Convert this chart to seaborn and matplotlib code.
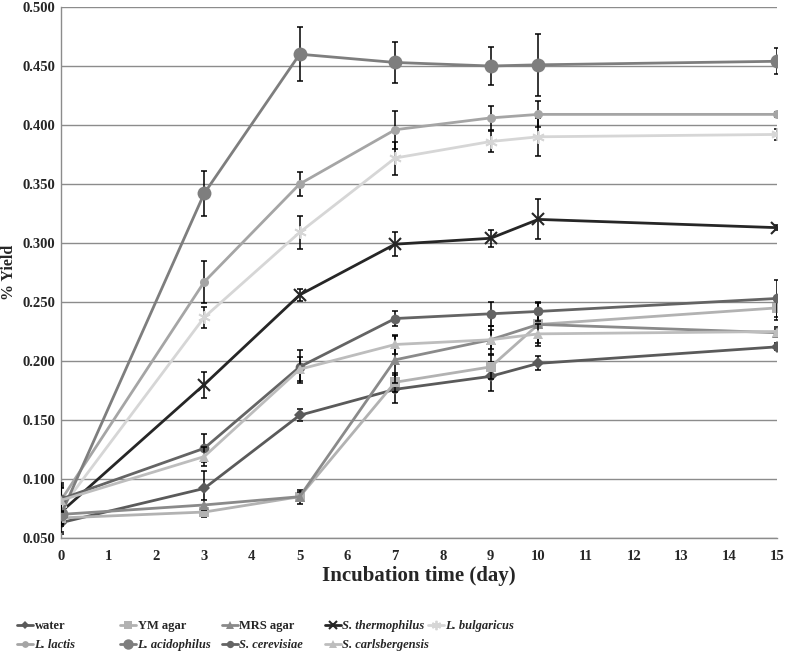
import numpy as np
import pandas as pd
import matplotlib
matplotlib.use('Agg')
import matplotlib.pyplot as plt
import seaborn as sns

# days sampled
days = [0, 3, 5, 7, 9, 10, 15]

# mean % yield per treatment
water = [0.063, 0.092, 0.154, 0.176, 0.187, 0.198, 0.212]
ym_agar = [0.067, 0.072, 0.085, 0.182, 0.195, 0.231, 0.245]
mrs_agar = [0.070, 0.078, 0.085, 0.201, 0.218, 0.231, 0.224]
s_thermophilus = [0.072, 0.180, 0.256, 0.299, 0.304, 0.320, 0.313]
l_bulgaricus = [0.075, 0.237, 0.309, 0.372, 0.386, 0.390, 0.392]
l_lactis = [0.082, 0.267, 0.350, 0.396, 0.406, 0.409, 0.409]
l_acidophilus = [0.070, 0.342, 0.460, 0.453, 0.450, 0.451, 0.454]
s_cerevisiae = [0.083, 0.126, 0.195, 0.236, 0.240, 0.242, 0.253]
s_carlsbergensis = [0.082, 0.119, 0.193, 0.214, 0.218, 0.223, 0.225]

# error bars (+/-)
water_err = [0.010, 0.015, 0.005, 0.012, 0.012, 0.006, 0.003]
ym_agar_err = [0.005, 0.004, 0.006, 0.008, 0.010, 0.010, 0.010]
mrs_agar_err = [0.005, 0.004, 0.004, 0.020, 0.012, 0.018, 0.003]
s_thermophilus_err = [0.010, 0.011, 0.005, 0.010, 0.007, 0.017, 0.002]
l_bulgaricus_err = [0.020, 0.009, 0.014, 0.014, 0.009, 0.016, 0.005]
l_lactis_err = [0.015, 0.018, 0.010, 0.016, 0.010, 0.011, 0.002]
l_acidophilus_err = [0.010, 0.019, 0.023, 0.017, 0.016, 0.026, 0.011]
s_cerevisiae_err = [0.010, 0.012, 0.014, 0.006, 0.010, 0.008, 0.016]
s_carlsbergensis_err = [0.010, 0.008, 0.010, 0.008, 0.008, 0.008, 0.004]

names = ['water', 'YM agar', 'MRS agar', 'S. thermophilus', 'L. bulgaricus',
         'L. lactis', 'L. acidophilus', 'S. cerevisiae', 'S. carlsbergensis']
means = [water, ym_agar, mrs_agar, s_thermophilus, l_bulgaricus,
         l_lactis, l_acidophilus, s_cerevisiae, s_carlsbergensis]
errs = [water_err, ym_agar_err, mrs_agar_err, s_thermophilus_err, l_bulgaricus_err,
        l_lactis_err, l_acidophilus_err, s_cerevisiae_err, s_carlsbergensis_err]

# style per series: colour, marker, marker size
styles = {
    'water': ('#5a5a5a', 'D', 6),
    'YM agar': ('#b2b2b2', 's', 7),
    'MRS agar': ('#8a8a8a', '^', 7.5),
    'S. thermophilus': ('#262626', 'x', 8),
    'L. bulgaricus': ('#d6d6d6', (6, 2, 0), 9),
    'L. lactis': ('#a5a5a5', 'o', 6.5),
    'L. acidophilus': ('#7e7e7e', 'o', 10),
    'S. cerevisiae': ('#646464', 'o', 7),
    'S. carlsbergensis': ('#bdbdbd', '^', 7.5),
}

rows = []
for n, m, e in zip(names, means, errs):
    for d, v, s in zip(days, m, e):
        rows.append({'day': d, 'yield': v, 'err': s, 'series': n})
df = pd.DataFrame(rows)

sns.set_style('white')
plt.rcParams['font.family'] = ['Liberation Serif', 'DejaVu Serif']
plt.rcParams['font.weight'] = 'bold'

fig = plt.figure(figsize=(7.87, 6.56), dpi=100)
ax = fig.add_axes([61 / 787, 1 - 538 / 656, (777 - 61) / 787, (538 - 7) / 656])

for i, n in enumerate(names):
    sub = df[df['series'] == n]
    col, mk, ms = styles[n]
    ax.errorbar(sub['day'], sub['yield'], yerr=sub['err'], fmt='none',
                ecolor='black', elinewidth=1.1, capsize=2.5, capthick=1.1,
                zorder=2 + i * 2)
    mew = 1.5 if mk == 'x' else (1.3 if isinstance(mk, tuple) else 0)
    sns.lineplot(data=sub, x='day', y='yield', ax=ax, color=col, marker=mk,
                 markersize=ms, markeredgecolor=col, markeredgewidth=mew,
                 linewidth=2, label=n, zorder=3 + i * 2, errorbar=None)

handles, labels = ax.get_legend_handles_labels()
if ax.get_legend() is not None:
    ax.get_legend().remove()

ax.set_xlim(0, 15)
ax.set_ylim(0.05, 0.5)
ax.set_xticks(range(0, 16))
ax.set_yticks(np.arange(0.05, 0.501, 0.05))
ax.yaxis.set_major_formatter(matplotlib.ticker.FormatStrFormatter('%.3f'))
ax.grid(axis='y', color='#8c8c8c', linewidth=1)
ax.set_axisbelow(True)
for sp in ['top', 'right']:
    ax.spines[sp].set_visible(False)
for sp in ['left', 'bottom']:
    ax.spines[sp].set_color('#8c8c8c')
    ax.spines[sp].set_linewidth(1)
ax.tick_params(axis='x', direction='out', length=4, color='#8c8c8c',
               labelsize=10.5, pad=5)
ax.tick_params(axis='y', direction='out', length=0, labelsize=10.5, pad=4)
for t in ax.get_xticklabels() + ax.get_yticklabels():
    t.set_fontweight('bold')

ax.set_xlabel('Incubation time (day)', fontsize=15, fontweight='bold', labelpad=2)
ax.set_ylabel('% Yield', fontsize=11.5, fontweight='bold', labelpad=2)
ax.yaxis.set_label_coords(-0.062, 0.5)

# legend below plot, one small legend per column
col_x = [17, 120, 222, 325, 428]
hmap = dict(zip(labels, handles))
columns = [['water', 'L. lactis'], ['YM agar', 'L. acidophilus'],
           ['MRS agar', 'S. cerevisiae'], ['S. thermophilus', 'S. carlsbergensis'],
           ['L. bulgaricus']]
for x, col_names in zip(col_x, columns):
    leg = fig.legend([hmap[c] for c in col_names], col_names, loc='upper left',
                     bbox_to_anchor=(x / 787, 1 - 620 / 656), frameon=False,
                     borderpad=0, borderaxespad=0, handlelength=1.3,
                     handletextpad=0.1, labelspacing=0.55, markerscale=0.75,
                     prop={'family': 'Liberation Serif', 'weight': 'bold', 'size': 9})
    for t in leg.get_texts():
        if t.get_text() not in ('water', 'YM agar', 'MRS agar'):
            t.set_fontstyle('italic')

fig.savefig('out.png', dpi=100)
